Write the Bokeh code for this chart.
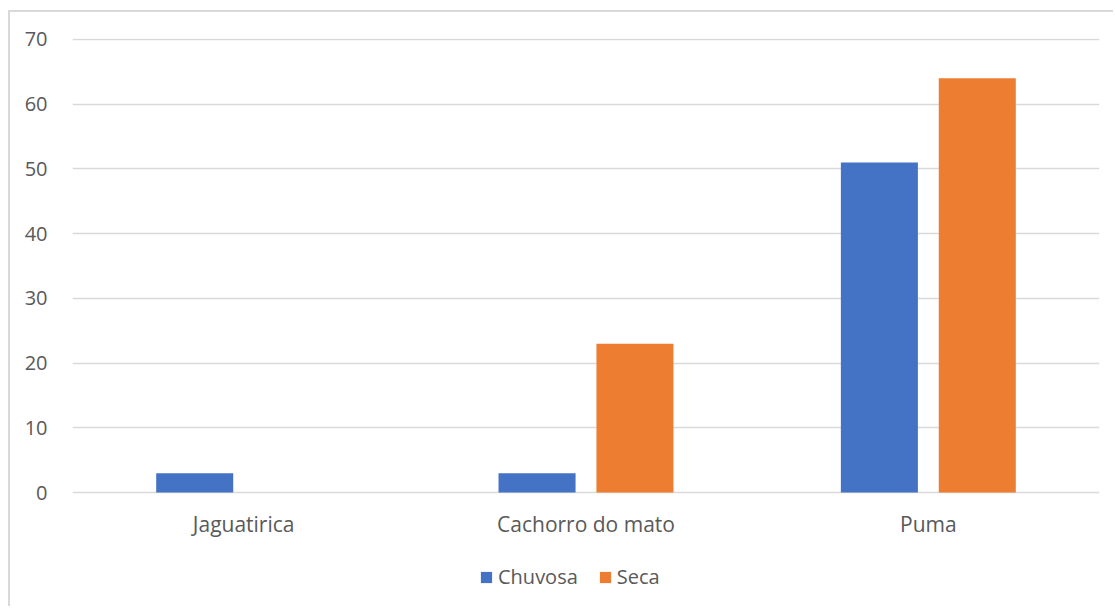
from bokeh.plotting import figure
from bokeh.models import FactorRange, Range1d, ColumnDataSource, Legend, LegendItem, FixedTicker
from bokeh.transform import dodge
from bokeh.embed import file_html
from bokeh.resources import INLINE

categories = ["Jaguatirica", "Cachorro do mato", "Puma"]
chuvosa = [3, 3, 51]
seca = [0, 23, 64]
y_ticks = [0, 10, 20, 30, 40, 50, 60, 70]

src = ColumnDataSource(dict(cat=categories, chuvosa=chuvosa, seca=seca))

FONT = "Open Sans"
TXT = "#595959"
GRID = "#d9d9d9"

p = figure(x_range=FactorRange(factors=categories, range_padding=0),
           y_range=Range1d(-17.6, 70.15),
           width=1105, height=596, output_backend="svg", toolbar_location=None,
           min_border_left=62, min_border_right=16, min_border_top=26, min_border_bottom=2,
           margin=(10, 0, 0, 8))
p.styles = {"border-left": "2px solid #d9d9d9", "border-top": "2px solid #d9d9d9"}
p.outline_line_color = None
p.background_fill_color = "white"
p.border_fill_color = "white"

r1 = p.vbar(x=dodge("cat", -0.143, range=p.x_range), top="chuvosa", width=0.225,
            source=src, fill_color="#4472C4", line_color=None)
r2 = p.vbar(x=dodge("cat", 0.143, range=p.x_range), top="seca", width=0.225,
            source=src, fill_color="#ED7D31", line_color=None)

p.xgrid.grid_line_color = None
p.ygrid.grid_line_color = GRID
p.ygrid.grid_line_width = 1.5
p.yaxis.ticker = FixedTicker(ticks=y_ticks)
p.xaxis.fixed_location = 0

for ax in (p.xaxis, p.yaxis):
    ax.axis_line_color = None
    ax.major_tick_line_color = None
    ax.minor_tick_line_color = None
    ax.major_label_text_font = FONT
    ax.major_label_text_font_size = "20px"
    ax.major_label_text_color = TXT
p.yaxis.major_label_standoff = 19
p.xaxis.major_label_standoff = 11
p.xaxis.major_label_text_font_size = "21px"

legend = Legend(items=[LegendItem(label="Chuvosa", renderers=[r1]),
                       LegendItem(label="Seca", renderers=[r2])],
                orientation="horizontal", location=(407, 16),
                glyph_width=14, glyph_height=14, label_standoff=5, spacing=20,
                padding=0, margin=0, border_line_color=None, background_fill_alpha=0,
                label_text_font=FONT, label_text_font_size="20px", label_text_color=TXT)
p.add_layout(legend, "center")

open("out.html", "w").write(file_html(p, INLINE))
